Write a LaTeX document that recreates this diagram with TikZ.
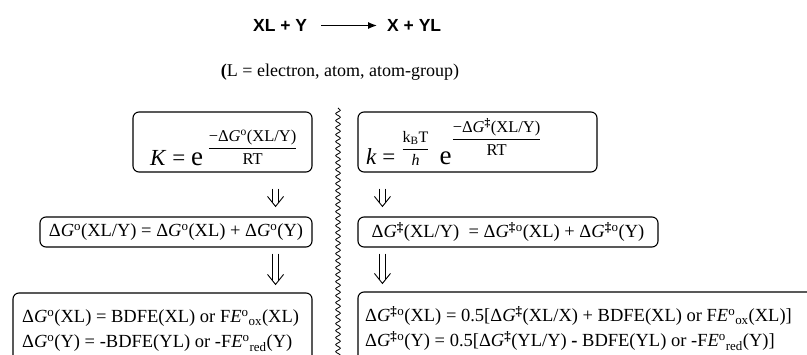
\documentclass[tikz,border=0pt]{standalone}
\usepackage{fontspec}
\setmainfont{Liberation Serif}
\newfontfamily\titlefont{Liberation Sans}
\usetikzlibrary{arrows.meta,decorations.pathmorphing}

\newcommand{\dG}{Δ\textit{G}}
\newcommand{\supo}{\textsuperscript{o}}
\newcommand{\tsd}{\textsuperscript{\textbf{‡}}}
\newcommand{\frc}[2]{$\displaystyle\frac{\mbox{#1}}{\mbox{#2}}$}

\begin{document}
\begin{tikzpicture}[
    x=1pt, y=1pt,
    every node/.style={font=\fontsize{18.5}{22}\selectfont, inner sep=0pt},
    box/.style={
        draw,
        line width=1.1pt,
        rounded corners=6pt,
        inner sep=0pt
    },
    txt/.style={anchor=base west},
    dblline/.style={line width=0.9pt},
    arr/.style={-{Latex[length=9pt, width=7pt]}, line width=1.2pt}
]
    \useasboundingbox (0,0) rectangle (807,-355);
    \clip (0,0) rectangle (807,-355);

    % reaction
    \node[anchor=west, font=\titlefont\bfseries\fontsize{17.5}{19}\selectfont] (lhs) at (253,-25.5) {XL + Y};
    \node[anchor=west, font=\titlefont\bfseries\fontsize{17.5}{19}\selectfont] (rhs) at (387,-25.5) {X + YL};
    \draw[arr, shorten <=14pt, shorten >=10pt] (lhs.east) -- (rhs.west);

    \node[font=\fontsize{18}{20}\selectfont] (note) at (340,-72) {\textbf{(}L = electron, atom, atom-group)};

    % separator
    \coordinate (sepTop) at (338,-108);
    \coordinate (sepBot) at (338,-365);
    \draw[line width=0.8pt, decorate, decoration={snake, amplitude=2.3pt, segment length=7pt}] (sepTop) -- (sepBot);

    % thermodynamics (left)
    \node[box, minimum width=179pt, minimum height=60pt] (Kbox) at (222.5,-142) {};
    \node[txt] (Kform) at (150,-166) {{\fontsize{23}{24}\selectfont\textit{K} = }{\fontsize{27}{28}\selectfont e} \raisebox{13pt}{\fontsize{16.5}{18}\selectfont\frc{−\dG\supo(XL/Y)}{RT}}};

    \node[box, minimum width=272pt, minimum height=30pt] (Gbox) at (176,-232) {};
    \node (Geq) at (Gbox.center) {\dG\supo(XL/Y) = \dG\supo(XL) + \dG\supo(Y)};

    \node[box, minimum width=299pt, minimum height=100pt] (Lbox) at (162.5,-343) {};
    \node[txt] (Lone) at (22,-323) {\dG\supo(XL) = BDFE(XL) or F\textit{E}\supo\textsubscript{ox}(XL)};
    \node[txt] (Ltwo) at (22,-348) {\dG\supo(Y) = -BDFE(YL) or -F\textit{E}\supo\textsubscript{red}(Y)};

    % kinetics (right)
    \node[box, minimum width=239pt, minimum height=60pt] (kbox) at (477.5,-142) {};
    \node[txt] (kform) at (366,-165) {{\fontsize{23}{24}\selectfont\textit{k} =\hspace{6pt}}\raisebox{11pt}{\fontsize{16}{18}\selectfont\frc{k\textsubscript{B}T}{\textit{h}}}\hspace{10pt}{\fontsize{27}{28}\selectfont e}\raisebox{21pt}{\fontsize{16.5}{18}\selectfont\frc{−\dG\tsd(XL/Y)}{RT}}};

    \node[box, minimum width=300pt, minimum height=30pt] (Hbox) at (508,-232) {};
    \node (Heq) at (Hbox.center) {\dG\tsd(XL/Y) \ = \dG\tsd\supo(XL) + \dG\tsd\supo(Y)};

    \node[box, minimum width=472pt, minimum height=100pt] (Rbox) at (594,-342) {};
    \node[txt] (Rone) at (365,-322) {\dG\tsd\supo(XL) = 0.5[\dG\tsd(XL/X) + BDFE(XL) or F\textit{E}\supo\textsubscript{ox}(XL)]};
    \node[txt] (Rtwo) at (365,-347) {\dG\tsd\supo(Y) = 0.5[\dG\tsd(YL/Y) \textbf{-} BDFE(YL) or -F\textit{E}\supo\textsubscript{red}(Y)]};

    % double arrows
    \coordinate (la1) at ([xshift=-37pt, yshift=-16pt]Kbox.south east);
    \coordinate (lb1) at ([xshift=-37pt, yshift=10pt]Gbox.north east);
    \coordinate (la2) at ([xshift=-37pt, yshift=-6pt]Gbox.south east);
    \coordinate (lb2) at ([xshift=-37pt, yshift=8pt]Lbox.north east);
    \coordinate (ra1) at ([xshift=25pt, yshift=-16pt]kbox.south west);
    \coordinate (rb1) at ([xshift=25pt, yshift=10pt]Hbox.north west);
    \coordinate (ra2) at ([xshift=25pt, yshift=-6pt]Hbox.south west);
    \coordinate (rb2) at ([xshift=25pt, yshift=8pt]Rbox.north west);
    \foreach \a/\b in {la1/lb1, la2/lb2, ra1/rb1, ra2/rb2} {
        \draw[dblline] ([xshift=-2.7pt]\a) -- ([xshift=-2.7pt, yshift=3.4pt]\b);
        \draw[dblline] ([xshift=2.7pt]\a) -- ([xshift=2.7pt, yshift=3.4pt]\b);
        \draw[dblline] ([xshift=-8pt, yshift=10pt]\b) -- (\b) -- ([xshift=8pt, yshift=10pt]\b);
    }

\end{tikzpicture}
\end{document}
